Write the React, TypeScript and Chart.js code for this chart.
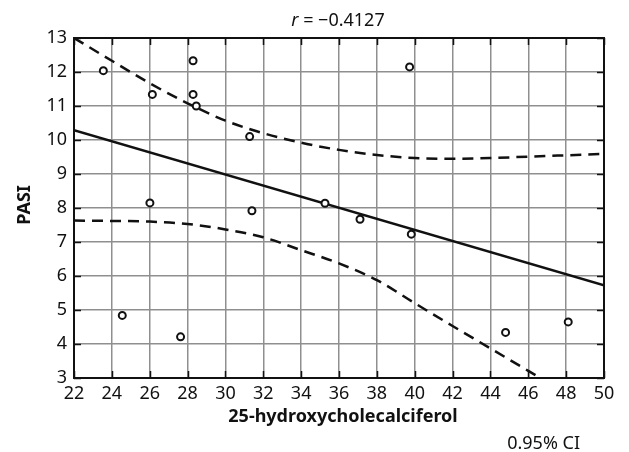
import React, { useEffect, useRef } from "react";
import { Chart, registerables } from "chart.js";

Chart.register(...registerables);

// Observed data (25-hydroxycholecalciferol vs PASI)
const vitD = [23.55, 26.14, 28.29, 28.29, 28.46, 31.28, 26.01, 31.4, 39.73, 35.26, 37.11, 24.55, 27.63, 39.82, 44.8, 48.11];
const pasi = [12.04, 11.34, 12.33, 11.34, 11.0, 10.1, 8.15, 7.92, 12.15, 8.14, 7.67, 4.84, 4.21, 7.23, 4.34, 4.65];

// Regression line end points
const fitX = [22, 50];
const fitY = [10.29, 5.73];

// 95% confidence band
const ciX = [22, 24, 26, 28, 30, 32, 34, 36, 38, 40, 42, 44, 46, 48, 50];
const ciUpper = [13.0, 12.33, 11.67, 11.08, 10.57, 10.2, 9.92, 9.71, 9.56, 9.47, 9.45, 9.47, 9.51, 9.55, 9.59];
const ciLower = [7.63, 7.62, 7.6, 7.53, 7.37, 7.14, 6.76, 6.37, 5.88, 5.2, 4.53, 3.87, 3.21, 2.55, 1.87];

const xTicks = [22, 50, 2];
const yTicks = [3, 13, 1];

const titleR = "r";
const titleRest = " = \u22120.4127";
const xLabel = "25-hydroxycholecalciferol";
const yLabel = "PASI";
const footnote = "0.95% CI";

const FONT = "'Noto Sans', 'Open Sans', sans-serif";

const pts = (xs: number[], ys: number[]) => xs.map((x, i) => ({ x, y: ys[i] }));

const decorPlugin = {
  id: "decor",
  afterDatasetsDraw(chart: any) {
    const { ctx, chartArea } = chart;
    const { left, right, top, bottom } = chartArea;
    const xs = chart.scales.x;
    const ys = chart.scales.y;
    ctx.save();
    ctx.strokeStyle = "#111";
    ctx.lineWidth = 2;
    ctx.strokeRect(left, top, right - left, bottom - top);
    ctx.lineWidth = 1.5;
    const tl = 7;
    xs.ticks.forEach((t: any) => {
      const px = Math.round(xs.getPixelForValue(t.value)) + 0.5;
      ctx.beginPath();
      ctx.moveTo(px, top);
      ctx.lineTo(px, top + tl);
      ctx.moveTo(px, bottom);
      ctx.lineTo(px, bottom - tl);
      ctx.stroke();
    });
    ys.ticks.forEach((t: any) => {
      const py = Math.round(ys.getPixelForValue(t.value)) + 0.5;
      ctx.beginPath();
      ctx.moveTo(left, py);
      ctx.lineTo(left + tl, py);
      ctx.moveTo(right, py);
      ctx.lineTo(right - tl, py);
      ctx.stroke();
    });
    ctx.restore();
  },
  afterDraw(chart: any) {
    const { ctx, chartArea } = chart;
    const { left, right, top, bottom } = chartArea;
    const cx = (left + right) / 2;
    ctx.save();
    ctx.fillStyle = "#111";
    ctx.textBaseline = "middle";
    // title
    ctx.font = `italic 18px ${FONT}`;
    const w1 = ctx.measureText(titleR).width;
    ctx.font = `18px ${FONT}`;
    const w2 = ctx.measureText(titleRest).width;
    const sx = 338 - (w1 + w2) / 2;
    ctx.textAlign = "left";
    ctx.font = `italic 18px ${FONT}`;
    ctx.fillText(titleR, sx, 21);
    ctx.font = `18px ${FONT}`;
    ctx.fillText(titleRest, sx + w1, 21);
    // x label
    ctx.textAlign = "center";
    ctx.font = `bold 18px ${FONT}`;
    ctx.fillText(xLabel, 343, 417);
    // footnote
    ctx.font = `18px ${FONT}`;
    ctx.textAlign = "right";
    ctx.fillText(footnote, 580, 444);
    // y label
    ctx.translate(25, 205);
    ctx.rotate(-Math.PI / 2);
    ctx.textAlign = "center";
    ctx.font = `bold 18px ${FONT}`;
    ctx.fillText(yLabel, 0, 0);
    ctx.restore();
  },
};

export default function App() {
  const ref = useRef<HTMLCanvasElement | null>(null);
  useEffect(() => {
    if (!ref.current) return;
    const chart = new Chart(ref.current, {
      type: "scatter",
      data: {
        datasets: [
          {
            data: pts(vitD, pasi),
            pointRadius: 3.5,
            pointBorderWidth: 2,
            pointBorderColor: "#111",
            pointBackgroundColor: "#fff",
            showLine: false,
          },
          {
            data: pts(fitX, fitY),
            showLine: true,
            borderColor: "#111",
            borderWidth: 2.5,
            pointRadius: 0,
          },
          {
            data: pts(ciX, ciUpper),
            showLine: true,
            borderColor: "#111",
            borderWidth: 2.5,
            borderDash: [11, 7],
            pointRadius: 0,
            cubicInterpolationMode: "monotone",
          },
          {
            data: pts(ciX, ciLower),
            showLine: true,
            borderColor: "#111",
            borderWidth: 2.5,
            borderDash: [11, 7],
            pointRadius: 0,
            cubicInterpolationMode: "monotone",
          },
        ],
      } as any,
      options: {
        animation: false,
        responsive: false,
        layout: { padding: { left: 0, top: 38, right: 25, bottom: 0 } },
        plugins: { legend: { display: false }, tooltip: { enabled: false }, title: { display: false } },
        scales: {
          x: {
            type: "linear",
            min: xTicks[0],
            max: xTicks[1],
            ticks: { stepSize: xTicks[2], color: "#111", font: { family: FONT, size: 18 }, padding: 5 },
            grid: { color: "#8f8f8f", lineWidth: 1.5, drawTicks: false },
            border: { display: false },
            afterFit: (s: any) => { s.height = 74; },
          },
          y: {
            type: "linear",
            min: yTicks[0],
            max: yTicks[1],
            ticks: { stepSize: yTicks[2], color: "#111", font: { family: FONT, size: 18 }, padding: 7 },
            grid: { color: "#8f8f8f", lineWidth: 1.5, drawTicks: false },
            border: { display: false },
            afterFit: (s: any) => { s.width = 74; },
          },
        },
      } as any,
      plugins: [decorPlugin],
    });
    return () => chart.destroy();
  }, []);
  return (
    <div style={{ position: "absolute", left: 0, top: 0, width: 629, height: 452, background: "#fff" }}>
      <canvas ref={ref} width={629} height={452} style={{ display: "block" }} />
    </div>
  );
}
